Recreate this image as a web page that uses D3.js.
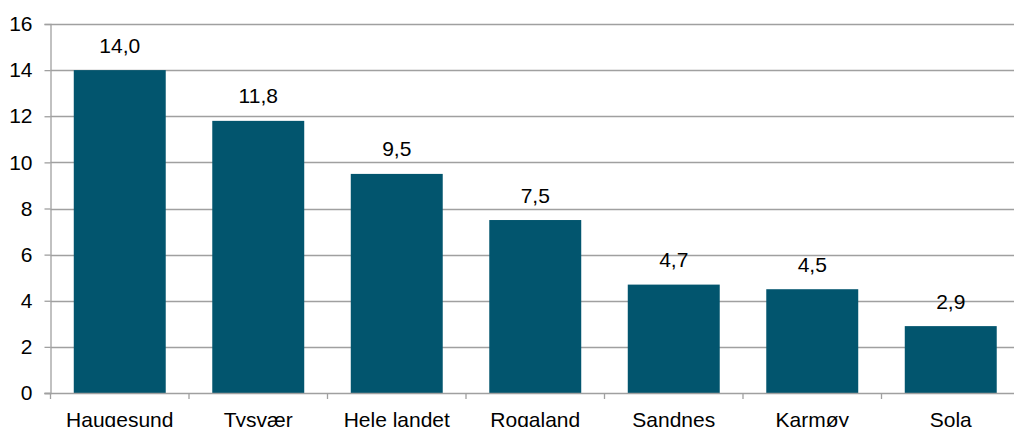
<!DOCTYPE html>
<html>
<head>
<meta charset="utf-8">
<script src="https://cdn.jsdelivr.net/npm/d3@7"></script>
<style>
  body { margin: 0; background: #fff; }
  text { font-family: "Liberation Sans", Arial, sans-serif; fill: #000; }
</style>
</head>
<body>
<div id="chart"></div>
<script>
const svgWidth = 1014,
      svgHeight = 427;

// data
const categories = ["Haugesund", "Tysvær", "Hele landet", "Rogaland", "Sandnes", "Karmøy", "Sola"];
const values = [14.0, 11.8, 9.5, 7.5, 4.7, 4.5, 2.9];
const yTicks = [0, 2, 4, 6, 8, 10, 12, 14, 16];

const plot = {left: 50.5, right: 1020, top: 24, bottom: 393};
const fontSize = "21px";

let scaleY = d3.scaleLinear().domain([0, 16]).range([plot.bottom, plot.top]),
    scaleX = d3.scaleBand().domain(categories).range([plot.left, plot.right]).paddingInner(0.336).paddingOuter(0.168);

let svg = d3.select("#chart")
  .append("svg")
  .attr("width", svgWidth)
  .attr("height", svgHeight);

// gridlines
svg.append("g")
  .selectAll("line")
  .data(yTicks.filter(d => d > 0))
  .enter()
  .append("line")
  .attr("x1", plot.left)
  .attr("x2", svgWidth)
  .attr("y1", d => Math.round(scaleY(d)) + 0.5)
  .attr("y2", d => Math.round(scaleY(d)) + 0.5)
  .attr("stroke", "#a0a0a0")
  .attr("stroke-width", 1.3);

// bars
svg.append("g")
  .selectAll("rect")
  .data(values)
  .enter()
  .append("rect")
  .attr("x", (d, i) => scaleX(categories[i]))
  .attr("y", d => scaleY(d))
  .attr("width", scaleX.bandwidth())
  .attr("height", d => plot.bottom - scaleY(d))
  .attr("fill", "#02556e");

// value labels
svg.append("g")
  .selectAll("text")
  .data(values)
  .enter()
  .append("text")
  .attr("x", (d, i) => scaleX(categories[i]) + scaleX.bandwidth() / 2)
  .attr("y", d => scaleY(d) - 17.5)
  .attr("text-anchor", "middle")
  .style("font-size", fontSize)
  .text(d => d3.format(".1f")(d).replace(".", ","));

// y axis
let yAxis = svg.append("g")
  .attr("transform", "translate(" + plot.left + ",0)")
  .call(d3.axisLeft(scaleY).tickValues(yTicks).tickSize(6).tickPadding(12));
yAxis.select(".domain").attr("stroke", "#a0a0a0").attr("stroke-width", 1.3);
yAxis.selectAll(".tick line").attr("stroke", "#a0a0a0").attr("stroke-width", 1.3);
yAxis.selectAll(".tick text").style("font-size", fontSize).attr("fill", "#000");

// x axis: ticks sit on category boundaries
let xAxis = svg.append("g")
  .attr("transform", "translate(0," + plot.bottom + ")");
xAxis.append("line")
  .attr("x1", plot.left - 6).attr("x2", svgWidth)
  .attr("y1", 0.5).attr("y2", 0.5)
  .attr("stroke", "#a0a0a0").attr("stroke-width", 1.3);
let step = scaleX.step();
xAxis.selectAll("line.tk")
  .data(d3.range(categories.length + 1))
  .enter()
  .append("line")
  .attr("class", "tk")
  .attr("x1", i => plot.left + i * step)
  .attr("x2", i => plot.left + i * step)
  .attr("y1", 0).attr("y2", 6)
  .attr("stroke", "#a0a0a0").attr("stroke-width", 1.3);
xAxis.selectAll("text.lbl")
  .data(categories)
  .enter()
  .append("text")
  .attr("class", "lbl")
  .attr("x", d => scaleX(d) + scaleX.bandwidth() / 2)
  .attr("y", 33.5)
  .attr("text-anchor", "middle")
  .style("font-size", fontSize)
  .text(d => d);
</script>
</body>
</html>
